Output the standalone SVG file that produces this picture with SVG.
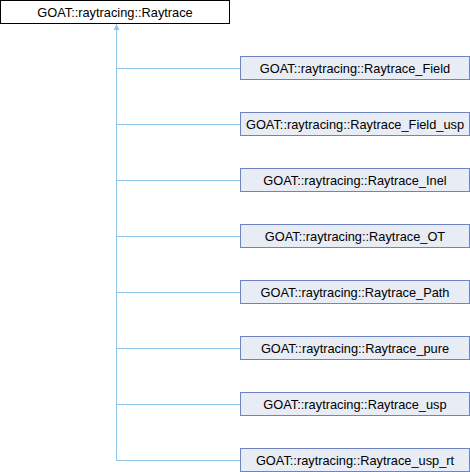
<svg xmlns="http://www.w3.org/2000/svg" width="470" height="472" viewBox="0 0 470 472">
<style>
.n rect{fill:#E8ECF5;stroke:#6E84C1;stroke-width:1}
.root rect{fill:#FFFFFF;stroke:#000000;stroke-width:1}
text{font-family:"Liberation Sans",Arial,sans-serif;font-size:12.8px;fill:#000;text-anchor:middle}
.e{stroke:#8EC5E8;stroke-width:1;fill:none}
</style>
<defs>
<marker id="a" markerWidth="6" markerHeight="7" refX="3" refY="0" orient="0" markerUnits="userSpaceOnUse" viewBox="0 0 6 7">
<path d="M3,0 L6,6 L0,6 Z" fill="#8EC5E8"/>
</marker>
</defs>
<g id="edges">
<path class="e" d="M116.5,24 V460.5" marker-start="url(#a)"/>
<path class="e" d="M116.5,68.5 H240"/>
<path class="e" d="M116.5,124.5 H240"/>
<path class="e" d="M116.5,180.5 H240"/>
<path class="e" d="M116.5,236.5 H240"/>
<path class="e" d="M116.5,292.5 H240"/>
<path class="e" d="M116.5,348.5 H240"/>
<path class="e" d="M116.5,404.5 H240"/>
<path class="e" d="M116.5,460.5 H240"/>
</g>
<g id="Raytrace" class="root"><rect x="0.5" y="0.5" width="229" height="23"/><text x="115" y="16.5">GOAT::raytracing::Raytrace</text></g>
<g id="Raytrace_Field" class="n"><rect x="240.5" y="56.5" width="229" height="23"/><text x="355" y="72.5">GOAT::raytracing::Raytrace_Field</text></g>
<g id="Raytrace_Field_usp" class="n"><rect x="240.5" y="112.5" width="229" height="23"/><text x="355" y="128.5">GOAT::raytracing::Raytrace_Field_usp</text></g>
<g id="Raytrace_Inel" class="n"><rect x="240.5" y="168.5" width="229" height="23"/><text x="355" y="184.5">GOAT::raytracing::Raytrace_Inel</text></g>
<g id="Raytrace_OT" class="n"><rect x="240.5" y="224.5" width="229" height="23"/><text x="355" y="240.5">GOAT::raytracing::Raytrace_OT</text></g>
<g id="Raytrace_Path" class="n"><rect x="240.5" y="280.5" width="229" height="23"/><text x="355" y="296.5">GOAT::raytracing::Raytrace_Path</text></g>
<g id="Raytrace_pure" class="n"><rect x="240.5" y="336.5" width="229" height="23"/><text x="355" y="352.5">GOAT::raytracing::Raytrace_pure</text></g>
<g id="Raytrace_usp" class="n"><rect x="240.5" y="392.5" width="229" height="23"/><text x="355" y="408.5">GOAT::raytracing::Raytrace_usp</text></g>
<g id="Raytrace_usp_rt" class="n"><rect x="240.5" y="448.5" width="229" height="23"/><text x="355" y="464.5">GOAT::raytracing::Raytrace_usp_rt</text></g>
</svg>
